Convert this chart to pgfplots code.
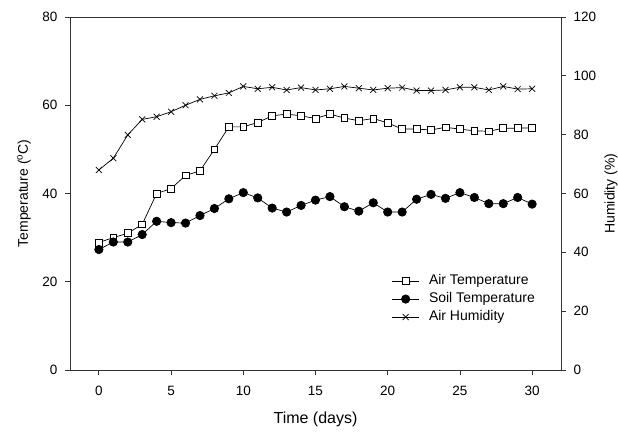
\documentclass[border=0pt]{standalone}
\usepackage{pgfplots}
\pgfplotsset{compat=1.18}
\usepackage{fontspec}
\setmainfont{Liberation Sans}
\begin{document}
\begin{tikzpicture}
\pgfplotsset{
  common/.style={
    at={(0pt,0pt)}, anchor=south west,
    scale only axis, width=491pt, height=353pt,
    xmin=-2, xmax=32,
    /pgf/number format/assume math mode=true,
    tick label style={font=\fontsize{13.5}{13.5}\selectfont},
    tick align=outside, major tick length=5pt,
    axis line style={black!80, line width=0.8pt},
    every tick/.style={black!80, line width=0.8pt},
  }
}
\begin{axis}[common,
  ymin=0, ymax=80, ytick={0,20,40,60,80},
  xtick={0,5,10,15,20,25,30},
  xtick pos=bottom, ytick pos=left,
  xticklabel style={yshift=-8pt},
  yticklabel style={xshift=-4pt},
  xlabel={Time (days)},
  ylabel={Temperature (\textsuperscript{o}C)},
  xlabel style={font=\fontsize{16}{16}\selectfont, at={(axis description cs:0.5,0)}, anchor=center, yshift=-49pt},
  ylabel style={font=\fontsize{14}{14}\selectfont, at={(axis description cs:0,0.5)}, anchor=center, yshift=46pt},
  legend style={draw=none, fill=none, at={(0.655,0.278)}, anchor=north west, inner sep=0pt,
    font=\fontsize{14}{14}\selectfont,
    nodes={text height=10pt, text depth=3pt, inner sep=2.5pt}, row sep=0pt,
    /tikz/every odd column/.append style={column sep=7pt}},
  legend cell align=left,
  legend image code/.code={\draw[mark repeat=2,mark phase=2] plot coordinates {(0pt,0pt)(13.5pt,0pt)(27pt,0pt)};},
]
\addplot[black, line width=0.7pt, mark=square*, mark options={fill=white, draw=black, line width=0.7pt}, mark size=3.4pt]
coordinates {(0,28.9)(1,30.0)(2,31.0)(3,33.0)(4,40.0)(5,41.1)(6,44.1)(7,45.1)(8,50.0)(9,55.1)(10,55.1)(11,56.1)(12,57.6)(13,58.0)(14,57.6)(15,57.0)(16,58.0)(17,57.1)(18,56.5)(19,57.0)(20,56.0)(21,54.6)(22,54.6)(23,54.4)(24,55.0)(25,54.6)(26,54.2)(27,54.1)(28,54.8)(29,54.8)(30,54.9)};
\addlegendentry{Air Temperature}
\addplot[black, line width=0.7pt, mark=*, mark options={fill=black, draw=black}, mark size=4.2pt]
coordinates {(0,27.3)(1,29.0)(2,29.0)(3,30.7)(4,33.7)(5,33.4)(6,33.3)(7,35.0)(8,36.6)(9,38.8)(10,40.2)(11,39.0)(12,36.7)(13,35.8)(14,37.3)(15,38.5)(16,39.3)(17,37.0)(18,36.0)(19,37.9)(20,35.8)(21,35.8)(22,38.7)(23,39.8)(24,38.9)(25,40.2)(26,39.1)(27,37.7)(28,37.7)(29,39.1)(30,37.6)};
\addlegendentry{Soil Temperature}
\addlegendimage{black, line width=0.7pt, mark=x, mark size=4.2pt}
\addlegendentry{Air Humidity}
\end{axis}
\begin{axis}[common,
  ymin=0, ymax=120, ytick={0,20,40,60,80,100,120},
  axis x line=none, axis y line*=right, ytick pos=right,
  yticklabel style={xshift=4pt},
  ylabel={Humidity (\%)},
  ylabel style={font=\fontsize{14}{14}\selectfont, at={(axis description cs:1,0.5)}, anchor=center, yshift=-50pt},
]
\addplot[black, line width=0.7pt, mark=x, mark size=4.2pt]
coordinates {(0,68.0)(1,72.0)(2,79.9)(3,85.2)(4,86.1)(5,87.8)(6,90.0)(7,92.0)(8,93.2)(9,94.2)(10,96.4)(11,95.6)(12,96.1)(13,95.2)(14,96.0)(15,95.2)(16,95.6)(17,96.4)(18,95.8)(19,95.2)(20,95.8)(21,96.0)(22,95.0)(23,95.0)(24,95.2)(25,96.1)(26,96.1)(27,95.2)(28,96.4)(29,95.5)(30,95.6)};
\end{axis}
\pgfresetboundingbox
\path (-70pt,-62pt) rectangle (548pt,370pt);
\end{tikzpicture}
\end{document}
